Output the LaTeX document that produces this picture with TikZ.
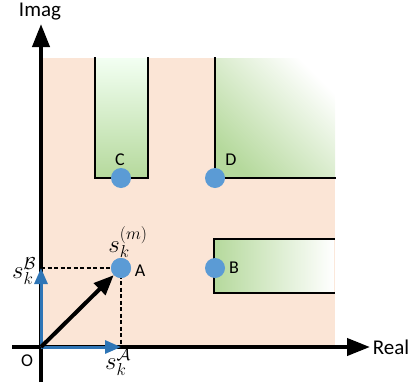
\documentclass[tikz,border=0pt]{standalone}
\usepackage{fontspec}
\setmainfont{Carlito}
\usetikzlibrary{arrows.meta}
\definecolor{peach}{HTML}{FBE5D6}
\definecolor{lgreen}{HTML}{B5D99C}
\definecolor{dotblue}{HTML}{5B9BD5}
\definecolor{arrblue}{HTML}{2E75B6}
\begin{document}
\begin{tikzpicture}[x=1pt,y=-1pt,
  wall/.style={line width=2pt, line cap=rect},
  axis/.style={line width=4pt, -{Triangle[length=23pt,width=17pt]}},
  blueaxis/.style={arrblue, line width=3pt, -{Triangle[length=16pt,width=13pt]}},
  vec/.style={line width=4pt, -{Triangle[length=20pt,width=16pt]}},
  guide/.style={line width=1.3pt, dash pattern=on 4pt off 2.5pt},
  dot/.style={circle, fill=dotblue, minimum size=20pt, inner sep=0pt},
  lab/.style={font=\fontsize{18}{20}\selectfont, inner sep=0pt},
  axlab/.style={font=\fontsize{21}{24}\selectfont, inner sep=0pt},
  mlab/.style={font=\fontsize{25}{28}\selectfont, inner sep=0pt}]
\useasboundingbox (0,0) rectangle (414,388);
% regions
\fill[peach] (41,58) rectangle (335,347);
\shade[top color=green!5!white, bottom color=lgreen] (95,58) rectangle (148,178);
\shade[top color=white, bottom color=lgreen, shading angle=-45] (215,58) rectangle (335,178);
\shade[left color=lgreen, right color=white] (214,239) rectangle (334,293);
\draw[wall] (95,58) -- (95,178) -- (148,178) -- (148,58);
\draw[wall] (215,58) -- (215,178) -- (335,178);
\draw[wall] (334,239) -- (214,239) -- (214,293) -- (334,293);
% axes
\coordinate (O) at (41,347);
\coordinate (ybot) at (41,382);
\coordinate (ytop) at (41,24);
\coordinate (xl) at (12,347);
\coordinate (xr) at (370,347);
\draw[axis] (ybot) -- (ytop);
\draw[axis] (xl) -- (xr);
\node[axlab] (imag) at (40,12) {Imag};
\node[axlab] (real) at (391,347) {Real};
\node[lab] (olab) at (27,361) {O};
% points
\node[dot] (C) at (121,178) {};
\node[dot] (D) at (215,178) {};
\node[dot] (A) at (121,268) {};
\node[dot] (B) at (215,268) {};
\node[lab] (Clab) at (120,160) {C};
\node[lab] (Dlab) at (231,160) {D};
\node[lab] (Alab) at (140,271) {A};
\node[lab] (Blab) at (234,268) {B};
% projections
\coordinate (yB) at (41,268);
\coordinate (xA) at (121,347);
\draw[guide] (yB) -- (A.center);
\draw[guide] (A.center) -- (xA);
\draw[blueaxis] (O) -- (xA);
\draw[blueaxis] (O) -- (yB);
\draw[vec] (O) -- (A);
\node[dot] at (A) {};
\node[mlab, anchor=south] (sm) at (128,258) {$s_k^{(m)}$};
\node[mlab] (sB) at (24,271) {$s_k^{\mathcal{B}}$};
\node[mlab] (sA) at (118,362) {$s_k^{\mathcal{A}}$};
\end{tikzpicture}
\end{document}
